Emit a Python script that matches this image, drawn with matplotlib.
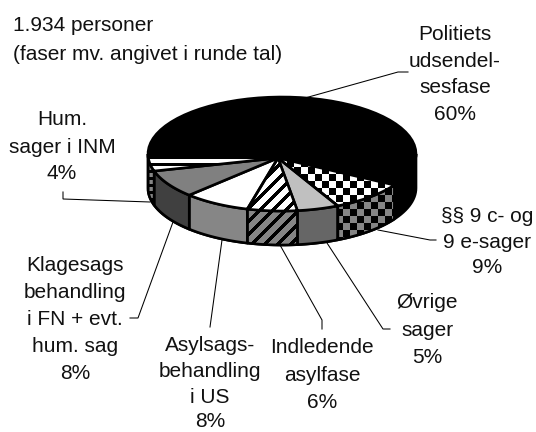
import numpy as np
import matplotlib
matplotlib.use("Agg")
import matplotlib.pyplot as plt
from matplotlib.patches import Polygon

W, H = 536, 432
# Data, in the order drawn clockwise from the right-hand side of the pie
categories = ["§§ 9 c- og\n9 e-sager", "Øvrige\nsager", "Indledende\nasylfase",
              "Asylsags-\nbehandling\ni US", "Klagesags\nbehandling\ni FN + evt.\nhum. sag",
              "Hum.\nsager i INM", "Politiets\nudsendel-\nsesfase"]
values = [9, 5, 6, 8, 8, 4, 60]
title_lines = ["1.934 personer", "(faser mv. angivet i runde tal)"]

# Geometry and style
CX, CY, A, B, DEPTH = 282.0, 154.0, 134.0, 57.0, 34.0
APEX = (278.0, 158.0)
START = 33.0
LW = 1.9
top_styles = ["check_w", "#c0c0c0", "stripe_w", "#ffffff", "#808080", "hstripe_w", "#000000"]
side_styles = ["check_g", "#666666", "stripe_g", "#868686", "#404040", "hstripe_g", "#000000"]
label_anchor = [(487, [222, 248, 273, 299]), (427, [308, 336, 363]), (322, [353, 381, 408]),
                (210, [351, 377, 403, 427]), (75, [271, 298, 325, 352, 379]),
                (62, [125, 153, 179]), (455, [40, 67, 93, 120])]
leaders = [[(378, 230), (430, 240), (436, 240)],
           [(327, 243), (383, 329), (390, 329)],
           [(280, 245), (322, 320), (322, 329)],
           [(222, 240), (210, 327)],
           [(173, 222), (138, 318), (130, 318)],
           [(150, 202), (63, 199), (63, 192)],
           [(305, 98), (398, 72), (408, 72)]]

plt.rcParams["font.family"] = ["Liberation Sans", "DejaVu Sans"]
fig = plt.figure(figsize=(W / 100, H / 100), dpi=100)
ax = fig.add_axes([0, 0, 1, 1])
ax.set_xlim(0, W)
ax.set_ylim(H, 0)
ax.axis("off")

yy, xx = np.mgrid[0:H, 0:W]
check = ((xx // 7 + yy // 7) % 2 == 0)
stripe = ((xx + yy) % 13 < 5)
hstripe = ((yy - 164) % 7 < 3)


def pattern(style):
    name, base = style.split("_")
    mask = {"check": check, "stripe": stripe, "hstripe": hstripe}[name]
    level = 1.0 if base == "w" else 0.52
    return np.where(mask, 0.0, level)


def fill(pts, style, z):
    if style.startswith("#"):
        ax.add_patch(Polygon(pts, closed=True, fc=style, ec="black", lw=LW, zorder=z, joinstyle="round"))
    else:
        poly = Polygon(pts, closed=True, fc="none", ec="black", lw=LW, zorder=z + 0.5, joinstyle="round")
        ax.add_patch(poly)
        im = ax.imshow(pattern(style), cmap="gray", vmin=0, vmax=1, extent=(-0.5, W - 0.5, H - 0.5, -0.5),
                       interpolation="nearest", zorder=z, aspect="auto")
        im.set_clip_path(poly)


def rim(t0, t1, dy=0.0):
    t = np.radians(np.linspace(t0, t1, 80))
    return np.column_stack([CX + A * np.cos(t), CY + B * np.sin(t) + dy])


# Black body: full ellipse plus its wall
full_top = rim(0, 360)
wall = np.vstack([rim(0, 180, DEPTH), rim(180, 180)[::-1], rim(180, 0)])
ax.add_patch(Polygon(wall, closed=True, fc="black", ec="black", lw=LW, zorder=1))
ax.add_patch(Polygon(full_top, closed=True, fc="black", ec="black", lw=LW, zorder=1))

# Slices
edges = START + np.cumsum([0] + values) * 3.6
for i, cat in enumerate(categories[:-1]):
    t0, t1 = edges[i], edges[i + 1]
    side = np.vstack([rim(t0, t1), rim(t1, t0, DEPTH)])
    fill(side, side_styles[i], 2 + i * 0.01)
    top = np.vstack([[APEX], rim(t0, t1)])
    fill(top, top_styles[i], 3 + i * 0.01)

# Leader lines
for pts in leaders:
    p = np.array(pts)
    ax.plot(p[:, 0], p[:, 1], color="black", lw=0.75, zorder=0.5, solid_joinstyle="miter")

# Labels
FS = 15
for cat, val, (x, ys) in zip(categories, values, label_anchor):
    for line, y in zip(cat.split("\n") + [f"{val}%"], ys):
        ax.text(x, y, line, ha="center", va="baseline", fontsize=FS, color="#111111", clip_on=False)
for line, y in zip(title_lines, [31, 60]):
    ax.text(13, y, line, ha="left", va="baseline", fontsize=FS, color="#111111")

fig.savefig("out.png", dpi=100)
